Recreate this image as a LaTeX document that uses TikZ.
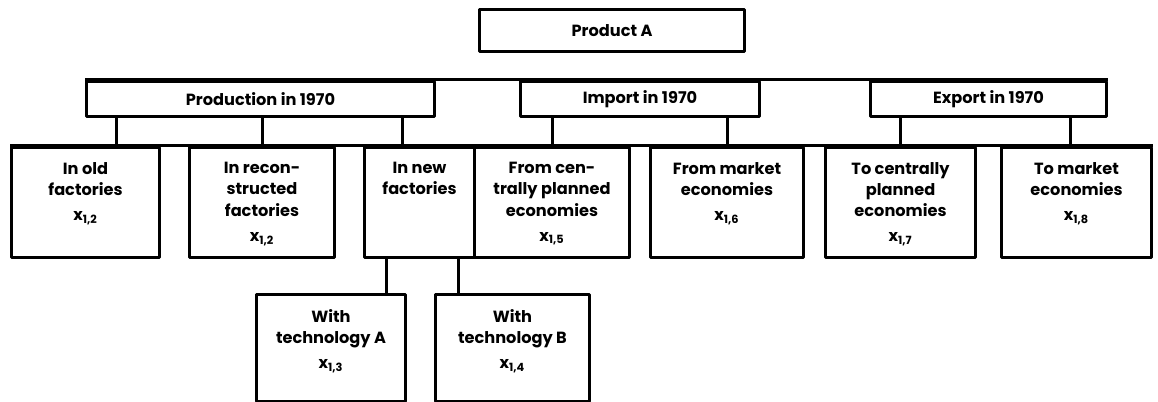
\documentclass[tikz,border=0pt]{standalone}
\usepackage{fontspec}
\setmainfont{Poppins}
\usetikzlibrary{calc}

% fixed-height cell, text hangs from the top
\newcommand{\cellbox}[3][2.2cm]{\parbox[t][#1][t]{#2}{\centering\vspace*{3mm}#3}}

\tikzset{
  head/.style={draw, anchor=north west, inner sep=0pt, minimum height=7mm},
  cell/.style={draw, anchor=north west, inner sep=0pt},
}

\begin{document}
\begin{tikzpicture}[x=0.2mm, y=-0.2mm, line width=0.6mm, line join=round,
    font=\fontsize{9.2}{12}\selectfont\bfseries]
  \useasboundingbox (0,0) rectangle (1158,402);

  % top
  \node[head, minimum width=53mm, minimum height=8.4mm] (prodA) at (478,8) {Product A};

  % second level
  \node[head, minimum width=69.6mm] (prod) at (85,80) {Production in 1970};
  \node[head, minimum width=47.8mm] (imp) at (519,80) {Import in 1970};
  \node[head, minimum width=47.2mm] (expo) at (869,80) {Export in 1970};
  \draw (prod.north west) -- (expo.north east);

  % third level
  \node[cell] (old) at (10,146) {\cellbox{29.6mm}{In old\\factories\\[0.8mm]x\textsubscript{1,2}}};
  \node[cell] (recon) at (188,146) {\cellbox{29mm}{In recon-\\structed\\factories\\[0.8mm]x\textsubscript{1,2}}};
  \node[cell] (new) at (363,146) {\cellbox{22mm}{In new\\factories}};
  \node[cell] (central) at (473,146) {\cellbox{31mm}{From cen-\\trally planned\\economies\\[0.8mm]x\textsubscript{1,5}}};
  \node[cell] (market) at (649,146) {\cellbox{30.6mm}{From market\\economies\\[0.8mm]x\textsubscript{1,6}}};
  \node[cell] (tocen) at (824,146) {\cellbox{30mm}{To centrally\\planned\\economies\\[0.8mm]x\textsubscript{1,7}}};
  \node[cell] (tomkt) at (1000,146) {\cellbox{30mm}{To market\\economies\\[0.8mm]x\textsubscript{1,8}}};
  \draw (old.north west) -- (tomkt.north east);

  \foreach \lo/\hi/\dx in {old/prod/6.2, recon/prod/0, new/prod/-3.4,
      central/imp/0, market/imp/0, tocen/expo/0, tomkt/expo/-1.2}
    \draw ([xshift=\dx mm]\lo.north) coordinate (d) -- (d |- \hi.south);

  % new factories split
  \node[cell] (techA) at (255,293) {\cellbox[2.14cm]{29.8mm}{With\\technology A\\[0.8mm]x\textsubscript{1,3}}};
  \node[cell] (techB) at (434,293) {\cellbox[2.14cm]{30.8mm}{With\\technology B\\[0.8mm]x\textsubscript{1,4}}};
  \draw ([xshift=-4.2mm]techA.north east) coordinate (d) -- (d |- new.south);
  \draw ([xshift=4.8mm]techB.north west) coordinate (d) -- (d |- new.south);
\end{tikzpicture}
\end{document}
